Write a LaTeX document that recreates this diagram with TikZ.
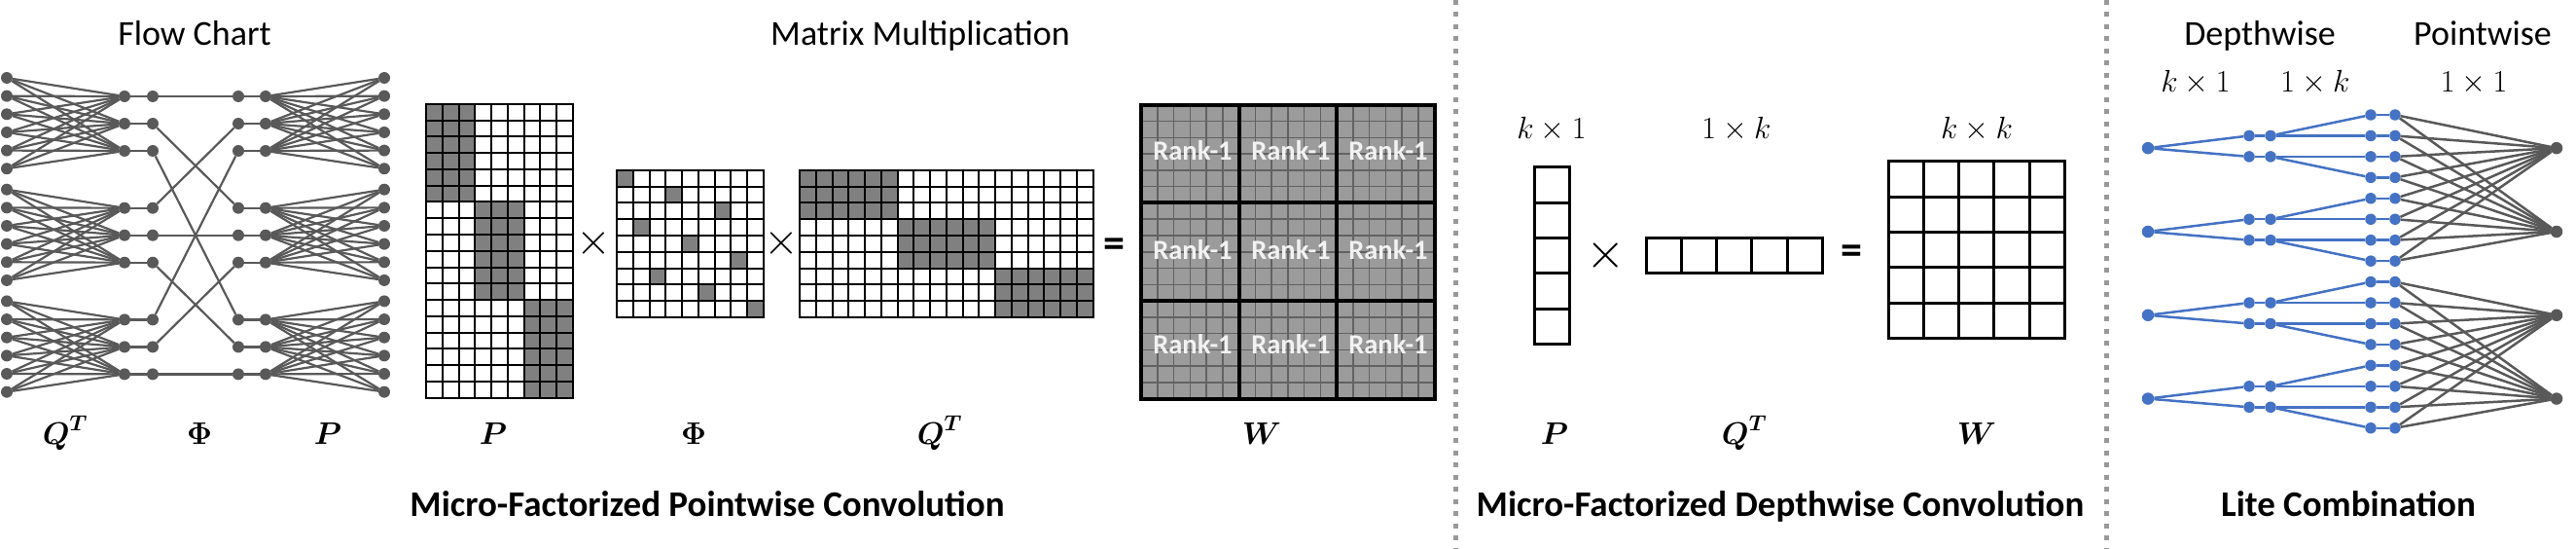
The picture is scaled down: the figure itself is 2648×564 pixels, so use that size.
\RequirePackage{fix-cm}
\documentclass[tikz,border=0pt]{standalone}
\usepackage{amsmath}
\usepackage{fontspec}
\setmainfont{Carlito}
\definecolor{dgray}{HTML}{595959}
\definecolor{shadeg}{HTML}{808080}
\definecolor{wfill}{HTML}{9B9B9B}
\definecolor{wline}{HTML}{626262}
\definecolor{myblue}{HTML}{4472C4}
\definecolor{sepcol}{HTML}{999999}
\newcommand\mygrid[6]{%
  \foreach \k in {0,...,#3} \draw[#6] ({#1+\k*#5},#2) -- ({#1+\k*#5},{#2+#4*#5});
  \foreach \k in {0,...,#4} \draw[#6] (#1,{#2+\k*#5}) -- ({#1+#3*#5},{#2+\k*#5});
}
\begin{document}
\begin{tikzpicture}[x=1pt,y=-1pt,
  dot/.style={circle,fill=dgray,inner sep=0pt,minimum size=12pt},
  bdot/.style={circle,fill=myblue,inner sep=0pt,minimum size=11.5pt},
  edge/.style={draw=dgray,line width=2.2pt},
  bedge/.style={draw=myblue,line width=2.5pt},
  gedge/.style={draw=dgray,line width=2.5pt},
  grid/.style={draw=black,line width=2pt,line cap=rect},
  dgrid/.style={draw=black,line width=3pt,line cap=rect},
  wgrid/.style={draw=wline,line width=1.5pt},
  wthick/.style={draw=black,line width=4pt,line cap=rect},
  shd/.style={fill=shadeg},
  sep/.style={draw=sepcol,line width=5pt,dash pattern=on 5pt off 7.5pt},
  title/.style={font=\fontsize{36}{40}\selectfont,anchor=base,inner sep=0pt},
  btitle/.style={font=\fontsize{37}{40}\selectfont\bfseries,anchor=base,inner sep=0pt},
  mlab/.style={font=\fontsize{32}{36}\selectfont,anchor=base,inner sep=0pt},
  dlab/.style={font=\fontsize{32}{36}\selectfont,anchor=base,inner sep=0pt},
  op/.style={font=\fontsize{46}{48}\selectfont,inner sep=0pt},
  eqop/.style={font=\fontsize{44}{46}\selectfont\bfseries,inner sep=0pt},
  rank/.style={font=\fontsize{28.5}{30}\selectfont\bfseries,text=white!95!black,inner sep=0pt}
]
\useasboundingbox (0,0) rectangle (2648,564);

% ---------------- Flow chart ----------------
\node[title] (tflow) at (200,47) {Flow Chart};
\foreach \g in {0,1,2}{
  \foreach \i in {0,...,5}{
    \node[dot] (A\g\i) at (7,{80+\g*114.7+\i*18.65}) {};
    \node[dot] (F\g\i) at (395,{80+\g*114.7+\i*18.65}) {};
  }
  \foreach \j in {0,1,2}{
    \node[dot] (B\g\j) at (128,{99+\g*114.7+\j*28}) {};
    \node[dot] (C\g\j) at (157,{99+\g*114.7+\j*28}) {};
    \node[dot] (D\g\j) at (245,{99+\g*114.7+\j*28}) {};
    \node[dot] (E\g\j) at (273,{99+\g*114.7+\j*28}) {};
  }
}
\foreach \g in {0,1,2}{
  \foreach \j in {0,1,2}{
    \foreach \i in {0,...,5}{
      \draw[edge] (A\g\i) -- (B\g\j);
      \draw[edge] (E\g\j) -- (F\g\i);
    }
    \draw[edge] (B\g\j) -- (C\g\j);
    \draw[edge] (C\g\j) -- (D\j\g);
    \draw[edge] (D\g\j) -- (E\g\j);
  }
}
\node[mlab] (lq1) at (67,456) {$\boldsymbol{Q}^{\boldsymbol{T}}$};
\node[mlab] (lphi1) at (205,456) {$\boldsymbol{\Phi}$};
\node[mlab] (lp1) at (337,456) {$\boldsymbol{P}$};

% ---------------- Matrix multiplication ----------------
\node[title] (tmat) at (946,47) {Matrix Multiplication};
\def\s{16.75}
% P
\foreach \b in {0,1,2} \fill[shd] ({438+\b*3*\s},{107+\b*6*\s}) rectangle ++({3*\s},{6*\s});
\mygrid{438}{107}{9}{18}{\s}{grid}
% Phi
\foreach \r in {0,...,8}{
  \pgfmathtruncatemacro\cc{3*mod(\r,3)+floor(\r/3)}
  \fill[shd] ({634+\cc*\s},{175+\r*\s}) rectangle ++(\s,\s);
}
\mygrid{634}{175}{9}{9}{\s}{grid}
% Q^T
\foreach \b in {0,1,2} \fill[shd] ({822+\b*6*\s},{175+\b*3*\s}) rectangle ++({6*\s},{3*\s});
\mygrid{822}{175}{18}{9}{\s}{grid}
% W
\fill[wfill] (1173,108) rectangle ++({18*\s},{18*\s});
\mygrid{1173}{108}{18}{18}{\s}{wgrid}
\mygrid{1173}{108}{3}{3}{100.5}{wthick}
\foreach \r/\yy in {0/155,1/257,2/354}{
  \foreach \c/\xx in {0/1226,1/1327,2/1427}{
    \node[rank] (rk\r\c) at (\xx,\yy) {Rank-1};
  }
}
\node[op] (x1) at (610,250) {$\times$};
\node[op] (x2) at (803,250) {$\times$};
\node[eqop] (e1) at (1145,255) {=};
\node[mlab] (lp2) at (507,456) {$\boldsymbol{P}$};
\node[mlab] (lphi2) at (713,456) {$\boldsymbol{\Phi}$};
\node[mlab] (lq2) at (966,456) {$\boldsymbol{Q}^{\boldsymbol{T}}$};
\node[mlab] (lw2) at (1297,456) {$\boldsymbol{W}$};
\node[btitle] (tpw) at (727,530) {Micro-Factorized Pointwise Convolution};

% separators
\coordinate (s1t) at (1496,0); \coordinate (s1b) at (1496,564);
\coordinate (s2t) at (2165,0); \coordinate (s2b) at (2165,564);
\draw[sep] (s1t) -- (s1b);
\draw[sep] (s2t) -- (s2b);

% ---------------- Depthwise ----------------
\def\t{36.3}
\mygrid{1577}{172}{1}{5}{\t}{dgrid}
\mygrid{1692}{244.5}{5}{1}{\t}{dgrid}
\mygrid{1941}{166}{5}{5}{\t}{dgrid}
\node[dlab] (dk1) at (1595,143) {$k\times1$};
\node[dlab] (d1k) at (1785,143) {$1\times k$};
\node[dlab] (dkk) at (2032,143) {$k\times k$};
\node[op,font=\fontsize{52}{54}\selectfont] (x3) at (1651,263) {$\times$};
\node[eqop] (e2) at (1903,262) {=};
\node[mlab] (lp3) at (1598,456) {$\boldsymbol{P}$};
\node[mlab] (lq3) at (1793,456) {$\boldsymbol{Q}^{\boldsymbol{T}}$};
\node[mlab] (lw3) at (2032,456) {$\boldsymbol{W}$};
\node[btitle] (tdw) at (1830,530) {Micro-Factorized Depthwise Convolution};

% ---------------- Lite combination ----------------
\node[title] (tdep) at (2323,47) {Depthwise};
\node[title] (tpt) at (2552,47) {Pointwise};
\node[dlab] (lk1) at (2257,95) {$k\times1$};
\node[dlab] (l1k) at (2380,95) {$1\times k$};
\node[dlab] (l11) at (2543,95) {$1\times1$};
\foreach \g in {0,...,3}{
  \node[bdot,minimum size=12.5pt] (X\g) at (2208,{118+(1.5+4*\g)*21.45+2}) {};
  \node[dot,minimum size=12.5pt] (Z\g) at (2628,{118+(1.5+4*\g)*21.45+2}) {};
  \foreach \j in {0,1}{
    \node[bdot] (P\g\j) at (2312,{118+(4*\g+1+\j)*21.45}) {};
    \node[bdot] (Q\g\j) at (2334,{118+(4*\g+1+\j)*21.45}) {};
  }
}
\foreach \i in {0,...,15}{
  \node[bdot] (R\i) at (2437,{118+\i*21.45}) {};
  \node[bdot] (S\i) at (2462,{118+\i*21.45}) {};
}
\foreach \g in {0,...,3}{
  \foreach \j in {0,1}{
    \pgfmathtruncatemacro\ia{4*\g+2*\j}
    \pgfmathtruncatemacro\ib{4*\g+2*\j+1}
    \draw[bedge] (X\g) -- (P\g\j);
    \draw[bedge] (P\g\j) -- (Q\g\j);
    \draw[bedge] (Q\g\j) -- (R\ia);
    \draw[bedge] (Q\g\j) -- (R\ib);
  }
}
\foreach \i in {0,...,15}{
  \pgfmathtruncatemacro\ha{2*floor(\i/8)}
  \pgfmathtruncatemacro\hb{2*floor(\i/8)+1}
  \draw[bedge] (R\i) -- (S\i);
  \draw[gedge] (S\i) -- (Z\ha);
  \draw[gedge] (S\i) -- (Z\hb);
}
\node[btitle] (tlite) at (2414,530) {Lite Combination};
\end{tikzpicture}
\end{document}
